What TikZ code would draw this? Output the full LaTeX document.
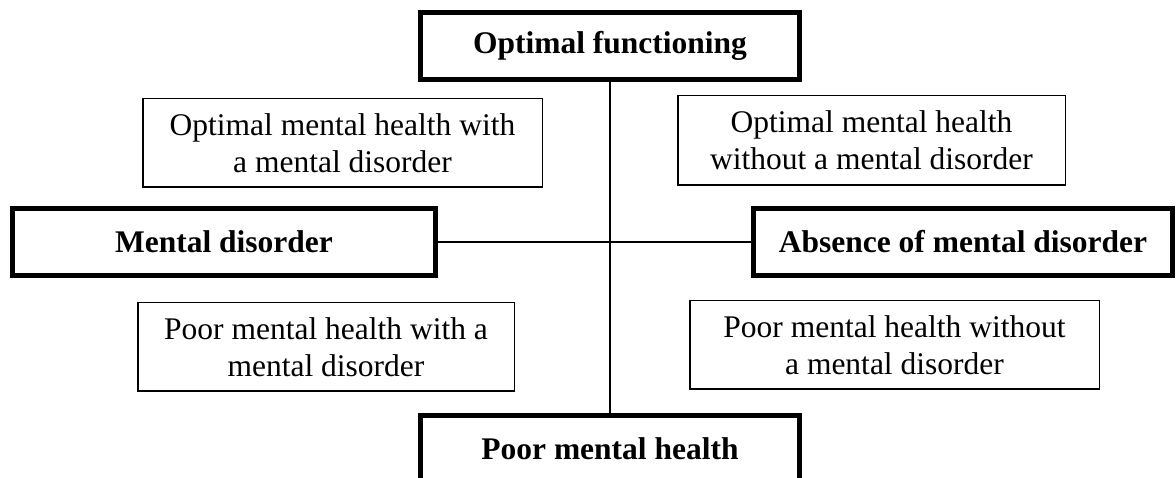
\documentclass[tikz,border=0pt]{standalone}
\usepackage{fontspec}
\setmainfont{Liberation Serif}
\begin{document}
\begin{tikzpicture}[x=1pt,y=-1pt,
  heavybox/.style={draw=black, line width=5pt, inner sep=0pt, align=center,
    font=\fontsize{31.5}{37}\selectfont\bfseries},
  lightbox/.style={draw=black, line width=1.5pt, inner sep=0pt, align=center,
    font=\fontsize{31.5}{37}\selectfont},
  link/.style={draw=black, line width=2pt}]
\useasboundingbox (0,0) rectangle (1176,478);

% axis end labels
\node[heavybox, minimum width=379pt, minimum height=67pt] (top) at (610,46) {Optimal functioning};
\node[heavybox, minimum width=379pt, minimum height=67pt] (poor) at (610,449) {Poor mental health};
\node[heavybox, minimum width=423pt, minimum height=67pt] (md) at (224,242) {Mental disorder};
\node[heavybox, minimum width=419pt, minimum height=67pt] (abs) at (963,242) {Absence of mental disorder};

% axes
\draw[link] (top.south) -- (poor.north);
\draw[link] (md.east) -- (abs.west);

% quadrant labels
\node[lightbox, minimum width=399.5pt, minimum height=88.5pt] (q1) at (342.5,143) {Optimal mental health with\\a mental disorder};
\node[lightbox, minimum width=387.5pt, minimum height=89.5pt] (q2) at (871.5,140.5) {Optimal mental health\\without a mental disorder};
\node[lightbox, minimum width=376.5pt, minimum height=88.5pt] (q3) at (326,347) {Poor mental health with a\\mental disorder};
\node[lightbox, minimum width=409.5pt, minimum height=88.5pt] (q4) at (894.5,345) {Poor mental health without\\a mental disorder};
\end{tikzpicture}
\end{document}
